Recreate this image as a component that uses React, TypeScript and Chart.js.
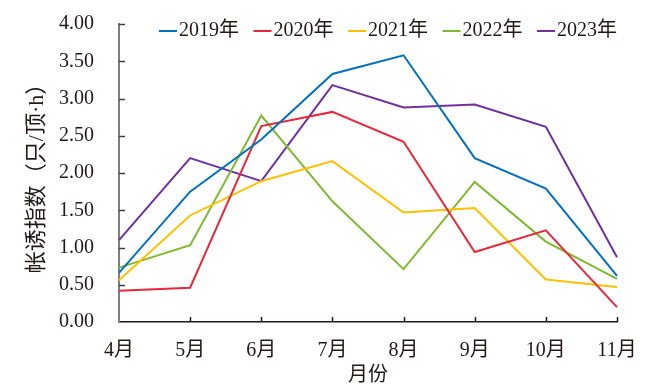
import React, { useEffect, useRef } from "react";
import { Chart, registerables } from "chart.js";

Chart.register(...registerables);

const months = ["4月", "5月", "6月", "7月", "8月", "9月", "10月", "11月"];
const seriesNames = ["2019年", "2020年", "2021年", "2022年", "2023年"];
const s2019 = [0.66, 1.75, 2.45, 3.33, 3.58, 2.2, 1.79, 0.62];
const s2020 = [0.42, 0.46, 2.63, 2.82, 2.42, 0.94, 1.23, 0.2];
const s2021 = [0.56, 1.43, 1.89, 2.16, 1.47, 1.53, 0.57, 0.47];
const s2022 = [0.73, 1.03, 2.77, 1.62, 0.71, 1.88, 1.08, 0.58];
const s2023 = [1.1, 2.2, 1.89, 3.18, 2.88, 2.92, 2.62, 0.87];
const colors = ["#0070C0", "#E8283A", "#FFC000", "#7DBA2F", "#7030A0"];
const yTicks = [0, 0.5, 1, 1.5, 2, 2.5, 3, 3.5, 4];

const FONT = "'Liberation Serif', 'Noto Sans CJK SC', serif";
const TEXT = "#231815";

const overlayPlugin = {
  id: "overlay",
  afterDraw(chart: any) {
    const ctx = chart.ctx;
    const x = chart.scales.x;
    const y = chart.scales.y;
    const area = chart.chartArea;
    ctx.save();
    // inward tick marks on x axis
    ctx.strokeStyle = "#231815";
    ctx.lineWidth = 1.5;
    for (let i = 1; i < months.length; i++) {
      const px = Math.round(x.getPixelForTick(i)) + 0.5;
      ctx.beginPath();
      ctx.moveTo(px, area.bottom);
      ctx.lineTo(px, area.bottom - 5);
      ctx.stroke();
    }
    // inward tick marks on y axis
    ctx.strokeStyle = "#404040";
    for (const v of yTicks) {
      if (v === 0) continue;
      const py = Math.round(y.getPixelForValue(v)) + 0.5;
      ctx.beginPath();
      ctx.moveTo(area.left, py);
      ctx.lineTo(area.left + 6, py);
      ctx.stroke();
    }
    // legend
    ctx.font = `20px ${FONT}`;
    ctx.textBaseline = "middle";
    ctx.textAlign = "left";
    let lx = 159;
    const ly = 31;
    chart.data.datasets.forEach((ds: any) => {
      ctx.strokeStyle = ds.borderColor;
      ctx.lineWidth = 2;
      ctx.beginPath();
      ctx.moveTo(lx, ly);
      ctx.lineTo(lx + 18, ly);
      ctx.stroke();
      ctx.fillStyle = TEXT;
      ctx.fillText(ds.label, lx + 20, ly);
      const w = ctx.measureText(ds.label).width;
      lx += 20 + w + 14.5;
    });
    ctx.restore();
  },
};

export default function App() {
  const ref = useRef<HTMLCanvasElement>(null);
  useEffect(() => {
    const data = [s2019, s2020, s2021, s2022, s2023];
    const chart = new Chart(ref.current!, {
      type: "line",
      data: {
        labels: months,
        datasets: seriesNames.map((n, i) => ({
          label: n,
          data: data[i],
          borderColor: colors[i],
          backgroundColor: colors[i],
          borderWidth: 2,
          pointRadius: 0,
          tension: 0,
          fill: false,
        })),
      },
      options: {
        animation: false,
        responsive: false,
        maintainAspectRatio: false,
        layout: { padding: { left: 0, right: 53, top: 24, bottom: 0 } },
        plugins: {
          legend: { display: false },
          tooltip: { enabled: false },
        },
        scales: {
          x: {
            offset: false,
            grid: { display: false },
            border: { display: true, color: "#231815", width: 1.5 },
            ticks: {
              color: TEXT,
              font: { family: FONT, size: 20 },
              padding: 9,
              maxRotation: 0,
              autoSkip: false,
            },
            title: {
              display: true,
              text: "月份",
              color: TEXT,
              font: { family: FONT, size: 20 },
              padding: { top: 0, bottom: 3 },
            },
            afterFit(scale: any) {
              scale.height = 69;
            },
          },
          y: {
            min: 0,
            max: 4,
            grid: { display: false },
            border: { display: true, color: "#7f7f7f", width: 2 },
            ticks: {
              stepSize: 0.5,
              color: TEXT,
              font: { family: FONT, size: 20, lineHeight: 0.5 },
              padding: 17,
              callback: (v: any) => Number(v).toFixed(2),
            },
            title: {
              display: true,
              text: "帐诱指数（只/顶·h）",
              color: TEXT,
              font: { family: FONT, size: 22 },
              padding: { top: 24, bottom: 0 },
            },
            afterFit(scale: any) {
              scale.width = 119;
            },
          },
        },
      },
      plugins: [overlayPlugin],
    });
    return () => chart.destroy();
  }, []);
  return (
    <div style={{ position: "absolute", left: 0, top: 0, width: 670, height: 391, background: "#fff" }}>
      <canvas ref={ref} width={670} height={391} style={{ width: 670, height: 391 }} />
    </div>
  );
}
